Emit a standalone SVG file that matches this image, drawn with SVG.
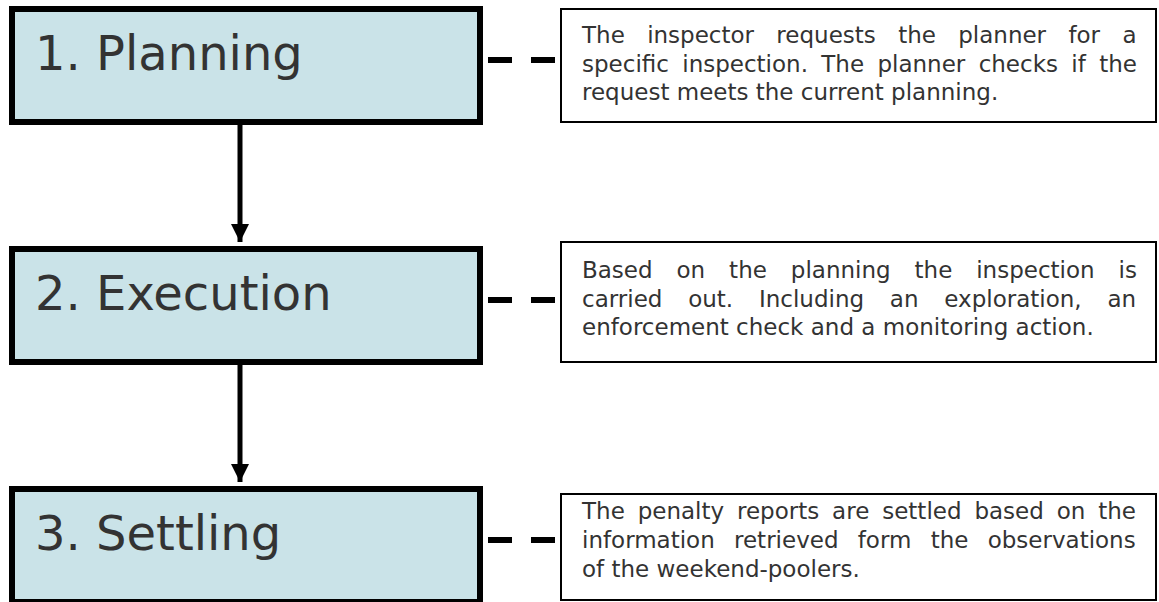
<svg xmlns="http://www.w3.org/2000/svg" width="1159" height="602" viewBox="0 0 1159 602">
<style>
.step{fill:#cae3e8;stroke:#000;stroke-width:6}
.lbl{font-family:"DejaVu Sans",Verdana,sans-serif;font-size:48px;fill:#333}
.note{fill:#fff;stroke:#000;stroke-width:2}
.txt{font-family:"DejaVu Sans",Verdana,sans-serif;font-size:23px;fill:#333}
.dash{stroke:#000;stroke-width:6;stroke-dasharray:24 19;fill:none}
.arr{stroke:#000;stroke-width:5;fill:none}
</style>
<defs>
<marker id="ah" markerUnits="userSpaceOnUse" markerWidth="18" markerHeight="18" refX="18" refY="9" orient="auto">
<path d="M0,0 L18,9 L0,18 z" fill="#000"/>
</marker>
</defs>
<rect width="1159" height="602" fill="#fff"/>
<g id="connectors">
<path class="arr" d="M240,125 L240,242" marker-end="url(#ah)"/>
<path class="arr" d="M240,365 L240,482" marker-end="url(#ah)"/>
<line class="dash" x1="488" y1="60" x2="555" y2="60"/>
<line class="dash" x1="488" y1="300" x2="555" y2="300"/>
<line class="dash" x1="488" y1="540" x2="555" y2="540"/>
</g>
<g id="step1">
<rect class="step" x="12" y="9" width="468" height="113"/>
<text class="lbl" x="35" y="70">1. Planning</text>
</g>
<g id="step2">
<rect class="step" x="12" y="249" width="468" height="113"/>
<text class="lbl" x="35" y="310">2. Execution</text>
</g>
<g id="step3">
<rect class="step" x="12" y="489" width="468" height="113"/>
<text class="lbl" x="35" y="550">3. Settling</text>
</g>
<g id="note1">
<rect class="note" x="561" y="9" width="595" height="113"/>
<text class="txt" x="582" y="43" word-spacing="15.04">The inspector requests the planner for a</text>
<text class="txt" x="582" y="72" word-spacing="6.04">specific inspection. The planner checks if the</text>
<text class="txt" x="582" y="100">request meets the current planning.</text>
</g>
<g id="note2">
<rect class="note" x="561" y="242" width="595" height="120"/>
<text class="txt" x="582" y="278" word-spacing="16.62">Based on the planning the inspection is</text>
<text class="txt" x="582" y="307" word-spacing="18.47">carried out. Including an exploration, an</text>
<text class="txt" x="582" y="335">enforcement check and a monitoring action.</text>
</g>
<g id="note3">
<rect class="note" x="561" y="494" width="595" height="106"/>
<text class="txt" x="582" y="519" word-spacing="5.58">The penalty reports are settled based on the</text>
<text class="txt" x="582" y="548" word-spacing="11.96">information retrieved form the observations</text>
<text class="txt" x="582" y="577">of the weekend-poolers.</text>
</g>
</svg>
